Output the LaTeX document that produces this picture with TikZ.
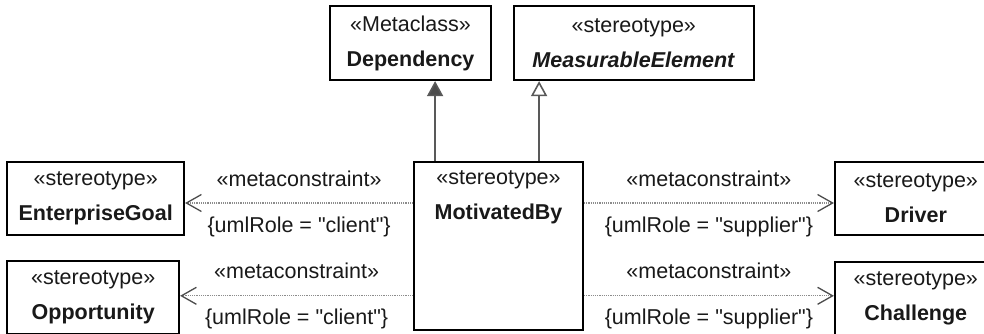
\documentclass[tikz,border=0pt]{standalone}
\usepackage{fontspec}
\setmainfont{Liberation Sans}
\usetikzlibrary{positioning,arrows.meta,calc}

\begin{document}
\begin{tikzpicture}[
  font=\fontsize{21.5}{35}\selectfont,
  box/.style={
    draw=black, line width=1.8pt, align=center,
    inner sep=4pt, minimum height=73pt, fill=white, text=black!90
  },
  gen/.style={draw=black!65, line width=1.6pt},
  meta/.style={draw=black!45, line width=1.2pt, densely dotted,
    -{Straight Barb[length=15pt,width=17pt,line width=1.3pt,color=black!70]}},
  lbl/.style={inner sep=0pt, align=center, text=black!90}
]
\useasboundingbox (0,0) rectangle (984pt,-333pt);

% ---------- central stereotype ----------
\node[box, minimum width=169pt, minimum height=168pt] (mot) at (498.5pt,-246pt) {};
\node[lbl, below=9pt of mot.north] (motname) {«stereotype»\\\textbf{MotivatedBy}};

% ---------- generals ----------
\node[box, minimum width=161pt, minimum height=74pt,
      above left=80pt and 84pt of mot.north west, anchor=south west] (dep)
      {«Metaclass»\\\textbf{Dependency}};
\node[box, minimum width=240pt, minimum height=74pt,
      right=21pt of dep.south east, anchor=south west] (meas)
      {«stereotype»\\\textbf{\itshape MeasurableElement}};

% ---------- clients and suppliers ----------
\node[box, minimum width=177pt, left=228pt of mot.north west, anchor=north east] (goal)
      {«stereotype»\\\textbf{EnterpriseGoal}};
\node[box, minimum width=172pt, below=24pt of goal.south west, anchor=north west] (opp)
      {«stereotype»\\\textbf{Opportunity}};
\node[box, minimum width=162pt, right=250pt of mot.north east, anchor=north west] (drv)
      {«stereotype»\\\textbf{Driver}};
\node[box, minimum width=162pt, below=25pt of drv.south west, anchor=north west] (chal)
      {«stereotype»\\\textbf{Challenge}};

% generalisation / extension
\coordinate (tdep)  at ($(mot.north west)+(22pt,0)$);
\coordinate (tmeas) at ($(mot.north west)+(126pt,0)$);
\draw[gen, -{Triangle[length=15pt,width=16pt,fill=black!70]}] (tdep) -- (tdep |- dep.south);
\draw[gen, -{Triangle[open,length=15pt,width=16pt]}] (tmeas) -- (tmeas |- meas.south);

% metaconstraints
\coordinate (rowa) at ($(goal.east)+(0,-4.5pt)$);
\coordinate (rowb) at ($(opp.east)+(0,1.5pt)$);
\draw[meta] (mot.west |- rowa) -- (goal.east |- rowa)
  node[lbl, midway, above=16pt] {«metaconstraint»}
  node[lbl, midway, below=13pt] {\{umlRole = \textquotedbl client\textquotedbl\}};
\draw[meta] (mot.west |- rowb) -- (opp.east |- rowb)
  node[lbl, midway, above=16pt] {«metaconstraint»}
  node[lbl, midway, below=13pt] {\{umlRole = \textquotedbl client\textquotedbl\}};
\draw[meta] (mot.east |- rowa) -- (drv.west |- rowa)
  node[lbl, midway, above=16pt] {«metaconstraint»}
  node[lbl, midway, below=13pt] {\{umlRole = \textquotedbl supplier\textquotedbl\}};
\draw[meta] (mot.east |- rowb) -- (chal.west |- rowb)
  node[lbl, midway, above=16pt] {«metaconstraint»}
  node[lbl, midway, below=13pt] {\{umlRole = \textquotedbl supplier\textquotedbl\}};

\end{tikzpicture}
\end{document}
